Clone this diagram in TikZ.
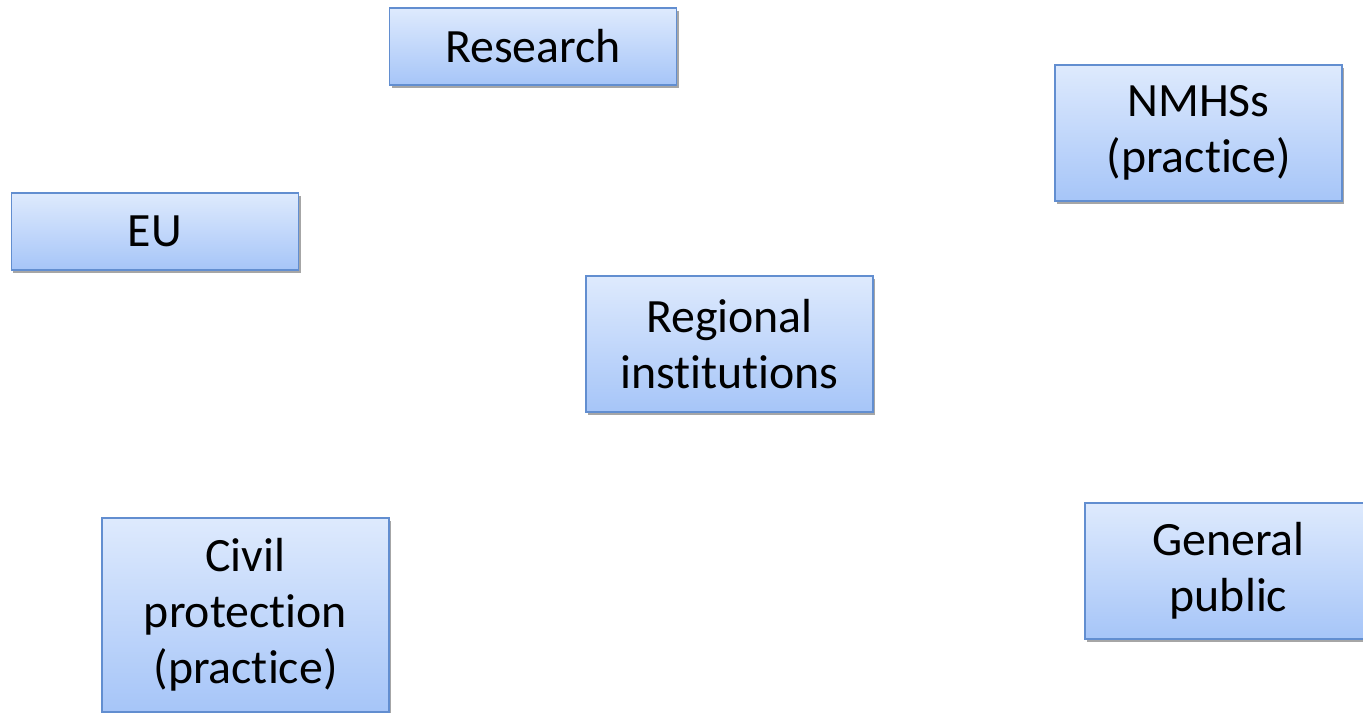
\documentclass[tikz,border=0pt]{standalone}
\usepackage{fontspec}
\setmainfont[Ligatures=NoCommon]{Carlito}
\usepackage{tikz}
\usetikzlibrary{shadows}

\definecolor{boxtop}{RGB}{222,234,253}
\definecolor{boxbot}{RGB}{166,197,248}
\definecolor{boxline}{RGB}{98,142,208}

\tikzset{
  actor/.style={draw=boxline, line width=1.2bp, top color=boxtop, bottom color=boxbot,
    minimum width=287bp, text width=287bp, align=center, inner sep=0pt,
    font=\fontsize{48}{56}\selectfont,
    drop shadow={shadow xshift=2bp, shadow yshift=-3bp, opacity=0.35, fill=black}},
  actor1/.style={actor, minimum height=77bp},
  actor2/.style={actor, minimum height=136bp},
  actor3/.style={actor, minimum height=194bp}
}

\begin{document}
\begin{tikzpicture}[x=1bp, y=-1bp]
  \useasboundingbox (0,0) rectangle (1363,712);
  \node (research) [actor1] at (533,46.5)    {Research};
  \node (nmhs)     [actor2] at (1198.5,133)  {NMHSs\\(practice)};
  \node (eu)       [actor1] at (155,231.5)   {EU};
  \node (regional) [actor2] at (729.5,344)   {Regional\\institutions};
  \node (civil)    [actor3] at (245.5,615)   {Civil\\protection\\(practice)};
  \node (public)   [actor2] at (1228.5,571)  {General\\public};
\end{tikzpicture}
\end{document}
